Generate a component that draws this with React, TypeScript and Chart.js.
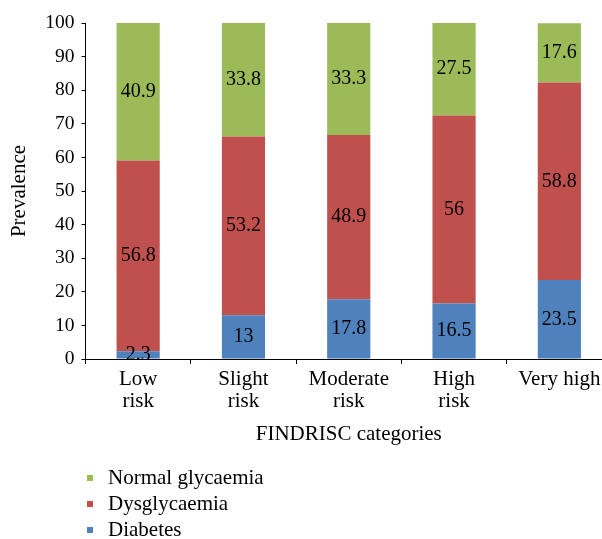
import React, { useEffect, useRef } from 'react';
import { Chart, registerables } from 'chart.js';

Chart.register(...registerables);

const categories: (string | string[])[] = [
  ['Low', 'risk'],
  ['Slight', 'risk'],
  ['Moderate', 'risk'],
  ['High', 'risk'],
  'Very high',
];
const diabetes = [2.3, 13, 17.8, 16.5, 23.5];
const dysglycaemia = [56.8, 53.2, 48.9, 56, 58.8];
const normalGlycaemia = [40.9, 33.8, 33.3, 27.5, 17.6];
const seriesNames = ['Diabetes', 'Dysglycaemia', 'Normal glycaemia'];
const seriesColors = ['#4F81BD', '#C0504D', '#9BBB59'];
const yMin = 0;
const yMax = 100;
const yStep = 10;

const FONT = "'Liberation Serif', 'DejaVu Serif', serif";

const labelPlugin = {
  id: 'segLabels',
  afterDatasetsDraw(chart: any) {
    const ctx = chart.ctx;
    ctx.save();
    ctx.font = `20px ${FONT}`;
    ctx.fillStyle = '#000';
    ctx.textAlign = 'center';
    ctx.textBaseline = 'middle';
    chart.data.datasets.forEach((ds: any, i: number) => {
      const meta = chart.getDatasetMeta(i);
      meta.data.forEach((el: any, j: number) => {
        const p = el.getProps(['x', 'y', 'base'], true);
        ctx.fillText(String(ds.data[j]), p.x, (p.y + p.base) / 2);
      });
    });
    ctx.restore();
  },
};

const legendPlugin = {
  id: 'vertLegend',
  afterDraw(chart: any) {
    const ctx = chart.ctx;
    ctx.save();
    ctx.font = `21px ${FONT}`;
    ctx.textAlign = 'left';
    ctx.textBaseline = 'middle';
    const rows = [2, 1, 0];
    rows.forEach((idx, r) => {
      const cy = 478 + r * 26;
      ctx.fillStyle = seriesColors[idx];
      ctx.fillRect(87, cy - 3, 6, 6);
      ctx.fillStyle = '#000';
      ctx.fillText(seriesNames[idx], 108, cy);
    });
    ctx.restore();
  },
};

export default function App() {
  const ref = useRef<HTMLCanvasElement>(null);
  useEffect(() => {
    if (!ref.current) return;
    Chart.defaults.font.family = FONT;
    Chart.defaults.color = '#000';
    const chart = new Chart(ref.current, {
      type: 'bar',
      data: {
        labels: categories as any,
        datasets: [
          { label: seriesNames[0], data: diabetes, backgroundColor: seriesColors[0] },
          { label: seriesNames[1], data: dysglycaemia, backgroundColor: seriesColors[1] },
          { label: seriesNames[2], data: normalGlycaemia, backgroundColor: seriesColors[2] },
        ],
      },
      options: {
        animation: false,
        responsive: false,
        maintainAspectRatio: false,
        datasets: { bar: { categoryPercentage: 1, barPercentage: 0.41 } },
        layout: { padding: { top: 23, right: 8, bottom: 80, left: 0 } },
        plugins: { legend: { display: false }, tooltip: { enabled: false } },
        scales: {
          x: {
            stacked: true,
            offset: true,
            afterFit: (s: any) => { s.height = 100; },
            grid: { display: true, drawOnChartArea: false, drawTicks: true, tickLength: 5, color: '#000', offset: true },
            border: { display: true, color: '#000', width: 1 },
            ticks: { font: { size: 21, family: FONT, lineHeight: 1.07 }, color: '#000', padding: 4, maxRotation: 0, autoSkip: false },
            title: { display: true, text: 'FINDRISC categories', font: { size: 21, family: FONT }, color: '#000', padding: { top: 0, bottom: 12 } },
          },
          y: {
            stacked: true,
            min: yMin,
            max: yMax,
            afterFit: (s: any) => { s.width = 85.5; },
            grid: { display: true, drawOnChartArea: false, drawTicks: true, tickLength: 4, color: '#000' },
            border: { display: true, color: '#000', width: 1 },
            ticks: { stepSize: yStep, font: { size: 19.5, family: FONT }, color: '#000', padding: 7 },
            title: { display: true, text: 'Prevalence', font: { size: 21, family: FONT }, color: '#000', padding: { top: 7, bottom: 0 } },
          },
        },
      },
      plugins: [labelPlugin, legendPlugin],
    });
    return () => chart.destroy();
  }, []);
  return (
    <div style={{ position: 'absolute', left: 0, top: 0, width: 602, height: 539, overflow: 'hidden', background: '#fff' }}>
      <canvas ref={ref} width={620} height={539} style={{ width: 620, height: 539, display: 'block' }} />
    </div>
  );
}
